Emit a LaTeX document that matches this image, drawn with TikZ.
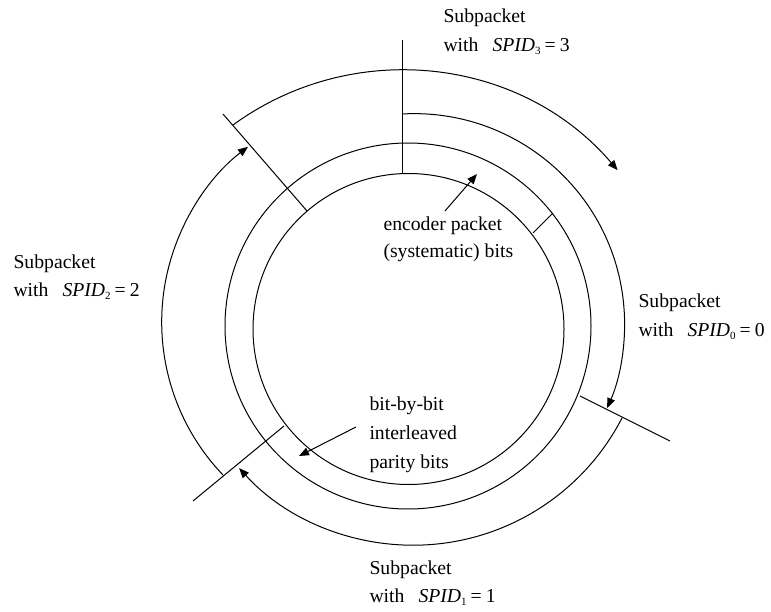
\documentclass[tikz,border=0pt]{standalone}
\usepackage{fontspec}
\setmainfont{Liberation Serif}
\usetikzlibrary{arrows.meta}
\newcommand{\spidlbl}[2]{with\hspace{14pt}\textit{SPID}\raisebox{-3pt}{\fontsize{11}{11}\selectfont #1}\hspace{4pt}=\hspace{4pt}#2}
\begin{document}
\begin{tikzpicture}[x=1pt,y=1pt,line width=1pt,
  lbl/.style={anchor=base west,inner sep=0pt,font=\fontsize{19.7}{24}\selectfont},
  arr/.style={-{Triangle[length=10pt,width=8pt]}}]
\useasboundingbox (0,0) rectangle (771,-612);
% centres
\coordinate (cin) at (408.5,-329);
\coordinate (cmid) at (408,-326);
% rings
\draw (cin) circle[radius=155.5];
\draw (cmid) circle[radius=183];
% tick lines
\coordinate (v1) at (402,-40);
\coordinate (v2) at (402,-173.6);
\draw (v1) -- (v2);
\coordinate (ul1) at (223,-114);
\coordinate (ul2) at (307,-211);
\draw (ul1) -- (ul2);
\coordinate (r1) at (533,-233);
\coordinate (r2) at (553,-213);
\draw (r1) -- (r2);
\coordinate (lr1) at (580,-396);
\coordinate (lr2) at (670,-441);
\draw (lr1) -- (lr2);
\coordinate (ll1) at (284,-426);
\coordinate (ll2) at (193,-501);
\draw (ll1) -- (ll2);
% subpacket arcs
\coordinate (a3) at (233,-125);
\draw[arr] (a3) arc[start angle=126.1,end angle=40.5,radius=285];
\coordinate (a0) at (402,-114);
\draw[arr] (a0) arc[start angle=93.3,end angle=-23.5,radius=210.5];
\coordinate (a1) at (622,-418);
\draw[arr] (a1) arc[start angle=-27.3,end angle=-137.8,radius=235];
\coordinate (a2) at (223,-475);
\draw[arr] (a2) arc[start angle=223.7,end angle=127.6,radius=221.3];
% labels
\node[lbl] (t3a) at (443,-23) {Subpacket};
\node[lbl] (t3b) at (443,-52) {\spidlbl{3}{3}};
\node[lbl] (t2a) at (13,-269) {Subpacket};
\node[lbl] (t2b) at (13,-297) {\spidlbl{2}{2}};
\node[lbl] (t0a) at (638,-308) {Subpacket};
\node[lbl] (t0b) at (638,-336) {\spidlbl{0}{0}};
\node[lbl] (t1a) at (369,-574) {Subpacket};
\node[lbl] (t1b) at (369,-602) {\spidlbl{1}{1}};
\node[lbl] (ea) at (383,-231) {encoder packet};
\node[lbl] (eb) at (383,-258) {(systematic) bits};
\node[lbl] (pa) at (369,-410) {bit-by-bit};
\node[lbl] (pb) at (369,-439) {interleaved};
\node[lbl] (pc) at (369,-468) {parity bits};
% pointer arrows
\coordinate (e1) at (445,-211);
\coordinate (e2) at (477,-174);
\draw[arr] (e1) -- (e2);
\coordinate (p1) at (356,-427);
\coordinate (p2) at (299,-456);
\draw[arr] (p1) -- (p2);
\end{tikzpicture}
\end{document}
